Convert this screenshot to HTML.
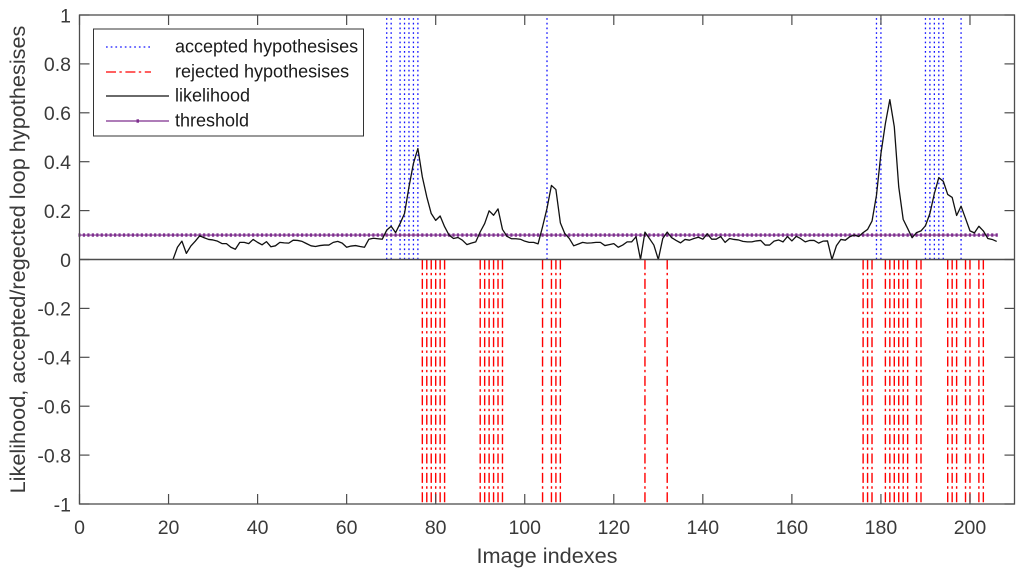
<!DOCTYPE html>
<html lang="en">
<head>
<meta charset="utf-8">
<title>Likelihood chart</title>
<style>
html,body{margin:0;padding:0;background:#fff;width:1024px;height:577px;overflow:hidden}
svg{display:block;font-family:"Liberation Sans",Arial,sans-serif}
text{fill:#3a3a3a}
</style>
</head>
<body>
<svg id="chart" width="1024" height="577" viewBox="0 0 1024 577" xmlns="http://www.w3.org/2000/svg"></svg>
<script>
const firstLikelihoodIndex = 21;
const likelihood = [0,.05,.075,.025,.055,.075,.097,.089,.082,.08,.075,.065,.065,.05,.042,.07,.07,.065,.082,.07,.06,.073,.052,.056,.07,.068,.067,.079,.078,.074,.065,.056,.053,.057,.059,.059,.07,.074,.067,.05,.055,.057,.053,.05,.083,.087,.085,.083,.12,.136,.11,.147,.188,.297,.393,.454,.338,.256,.188,.16,.178,.134,.1,.086,.09,.079,.061,.067,.072,.113,.147,.199,.181,.207,.123,.095,.085,.085,.083,.075,.07,.07,.064,.134,.209,.303,.286,.15,.106,.086,.056,.063,.07,.067,.068,.07,.07,.057,.061,.065,.05,.059,.072,.072,.093,0,.112,.086,.059,0,.086,.112,.089,.078,.068,.082,.079,.086,.091,.083,.105,.083,.083,.094,.07,.086,.082,.08,.074,.072,.072,.076,.078,.059,.059,.075,.08,.072,.094,.076,.095,.085,.072,.078,.078,.067,.075,.076,0,.056,.082,.079,.093,.1,.094,.11,.123,.157,.263,.433,.556,.654,.543,.297,.164,.127,.089,.11,.117,.138,.188,.27,.335,.32,.266,.254,.18,.218,.168,.117,.109,.136,.117,.086,.082,.074];
const acceptedIndexes = [69,70,72,73,74,75,76,105,179,180,190,191,192,193,194,198];
const rejectedIndexes = [77,78,79,80,81,82,90,91,92,93,94,95,104,106,107,108,127,132,176,177,178,181,182,183,184,185,186,188,189,195,196,197,199,200,202,203];
const thresholdValue = 0.1;
const thresholdLastIndex = 206;
const xTicks = [0,20,40,60,80,100,120,140,160,180,200];
const yTicks = [1,0.8,0.6,0.4,0.2,0,-0.2,-0.4,-0.6,-0.8,-1];
const legendLabels = ["accepted hypothesises","rejected hypothesises","likelihood","threshold"];

const NS = "http://www.w3.org/2000/svg";
const svg = document.getElementById("chart");
const plotLeft = 79.5, plotRight = 1014.5, plotTop = 15, plotBottom = 504;
const xMin = 0, xMax = 210, yMin = -1, yMax = 1;
const axisColor = "#4d4d4d";
function xScale(v){ return plotLeft + (v - xMin) / (xMax - xMin) * (plotRight - plotLeft); }
function yScale(v){ return plotBottom - (v - yMin) / (yMax - yMin) * (plotBottom - plotTop); }
function el(tag, attrs, parent){
  const e = document.createElementNS(NS, tag);
  for (const k in attrs) e.setAttribute(k, attrs[k]);
  (parent || svg).appendChild(e);
  return e;
}
function label(tag, attrs, str){
  const t = el(tag, attrs);
  t.textContent = str;
  return t;
}

// accepted hypotheses
acceptedIndexes.forEach(function(v){
  const l = el("line", {x1:xScale(v), x2:xScale(v), y1:yScale(0), y2:yScale(1), stroke:"#1414ff", "stroke-width":1.3, "stroke-dasharray":"1.7 3"});
  
  
});
// rejected hypotheses
rejectedIndexes.forEach(function(v){
  const l = el("line", {x1:xScale(v), x2:xScale(v), y1:yScale(0), y2:yScale(-1), stroke:"#ff0000", "stroke-width":1.4, "stroke-dasharray":"10 3.4 2.4 3.6"});
  
  
});

// threshold
const thresholdGroup = el("g", {});


el("line", {x1:xScale(0), x2:xScale(thresholdLastIndex), y1:yScale(thresholdValue), y2:yScale(thresholdValue), stroke:"#7e2f8e", "stroke-width":1.2}, thresholdGroup);
for (let i = 0; i <= thresholdLastIndex; i++) {
  el("rect", {x:xScale(i)-1.1, y:yScale(thresholdValue)-1.7, width:2.2, height:3.4, fill:"#7e2f8e"}, thresholdGroup);
}

// likelihood
const likelihoodLine = el("polyline", {
  points: likelihood.map(function(v,i){ return xScale(firstLikelihoodIndex+i).toFixed(2)+","+yScale(v).toFixed(2); }).join(" "),
  fill:"none", stroke:"#111", "stroke-width":1.3, "stroke-linejoin":"round"
});



// axes box
const box = el("rect", {x:plotLeft, y:plotTop, width:plotRight-plotLeft, height:plotBottom-plotTop, fill:"none", stroke:axisColor, "stroke-width":1.3});


const zeroAxis = el("line", {x1:plotLeft, x2:plotRight, y1:yScale(0), y2:yScale(0), stroke:axisColor, "stroke-width":1.4});



// x ticks
xTicks.forEach(function(v){
  const x = xScale(v);
  el("line", {x1:x, x2:x, y1:plotBottom, y2:plotBottom-10, stroke:axisColor, "stroke-width":1.2});
  el("line", {x1:x, x2:x, y1:plotTop, y2:plotTop+10, stroke:axisColor, "stroke-width":1.2});
  const t = label("text", {x:x, y:534, "text-anchor":"middle", "font-size":19.5}, String(v));
  
  
});
// y ticks
yTicks.forEach(function(v){
  const y = yScale(v);
  el("line", {x1:plotLeft, x2:plotLeft+10, y1:y, y2:y, stroke:axisColor, "stroke-width":1.2});
  el("line", {x1:plotRight, x2:plotRight-10, y1:y, y2:y, stroke:axisColor, "stroke-width":1.2});
  const t = label("text", {x:71, y:y+7.3, "text-anchor":"end", "font-size":19.5}, String(v));
  
  
});

// axis titles
const xTitle = label("text", {x:547, y:563, "text-anchor":"middle", "font-size":21.7}, "Image indexes");


const yTitle = label("text", {x:0, y:0, transform:"translate(25 259.5) rotate(-90)", "text-anchor":"middle", "font-size":21.7}, "Likelihood, accepted/regected loop hypothesises");



// legend
const legendBox = el("rect", {x:93.5, y:29, width:270, height:107, fill:"#fff", stroke:"#333", "stroke-width":1});


const legendY = [47, 72, 96, 121];
const legendSwatches = [
  {x2:151, stroke:"#1414ff", w:1.2, dash:"1.7 3"},
  {x2:151, stroke:"#ff0000", w:1.3, dash:"10 3.4 2.4 3.6"},
  {x2:169, stroke:"#111111", w:1.2, dash:"none"},
  {x2:169, stroke:"#7e2f8e", w:1.3, dash:"none"}
];
legendLabels.forEach(function(name,i){
  const s = legendSwatches[i];
  const sw = el("line", {x1:106, x2:s.x2, y1:legendY[i], y2:legendY[i], "stroke-width":s.w, "stroke-dasharray":s.dash, style:"stroke:"+s.stroke});
  
  
  const t = label("text", {x:175, y:legendY[i]+5.7, "font-size":18, style:"fill:#1a1a1a"}, name);
  
  
});
el("rect", {x:136.5, y:legendY[3]-1.7, width:2.5, height:3.4, fill:"#7e2f8e"});
</script>
</body>
</html>
